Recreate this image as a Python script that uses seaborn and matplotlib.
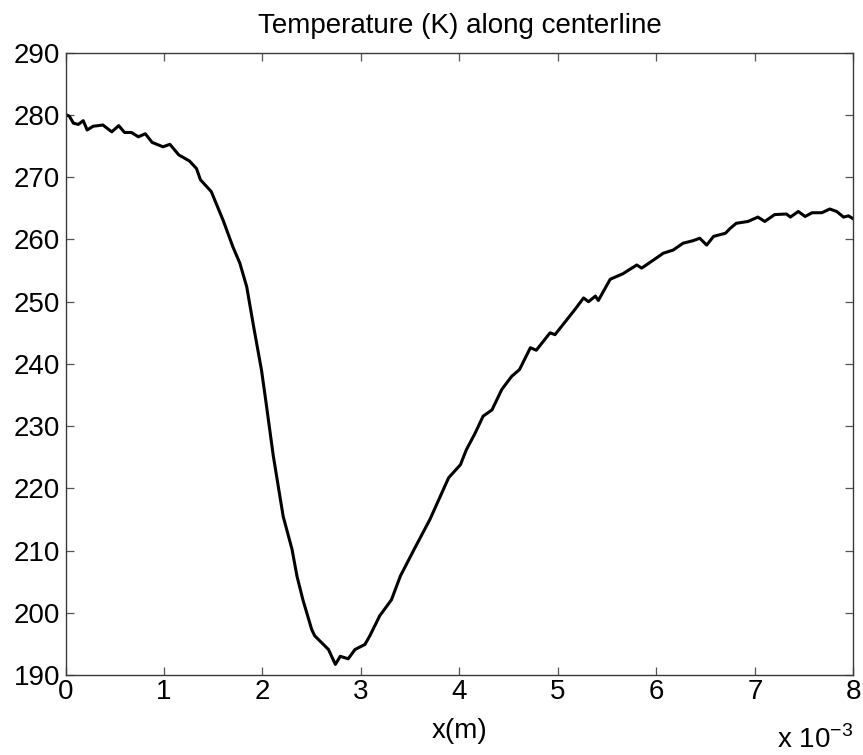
import numpy as np
import pandas as pd
import matplotlib
matplotlib.use("Agg")
import matplotlib.pyplot as plt
import seaborn as sns
from matplotlib.ticker import FuncFormatter

# x positions in units of 1e-3 m, temperature in K
x_mm = [0.00, 0.04, 0.08, 0.13, 0.18, 0.22, 0.28, 0.38, 0.47, 0.54, 0.60, 0.67,
        0.74, 0.81, 0.88, 0.99, 1.06, 1.15, 1.26, 1.33, 1.37, 1.48, 1.60, 1.70,
        1.77, 1.84, 1.91, 1.99, 2.03, 2.11, 2.21, 2.30, 2.35, 2.41, 2.50, 2.53,
        2.67, 2.74, 2.79, 2.87, 2.94, 3.04, 3.09, 3.19, 3.31, 3.40, 3.54, 3.70,
        3.89, 4.01, 4.07, 4.16, 4.24, 4.33, 4.43, 4.53, 4.61, 4.72, 4.78, 4.92,
        4.97, 5.09, 5.17, 5.26, 5.31, 5.38, 5.41, 5.53, 5.66, 5.80, 5.85, 5.97,
        6.07, 6.17, 6.27, 6.37, 6.44, 6.51, 6.58, 6.70, 6.75, 6.81, 6.93, 7.03,
        7.10, 7.20, 7.32, 7.36, 7.44, 7.51, 7.58, 7.68, 7.76, 7.83, 7.90, 7.95,
        8.00]
temperature = [280.1, 279.8, 278.7, 278.5, 279.1, 277.6, 278.2, 278.4, 277.3, 278.3, 277.2, 277.2,
               276.5, 277.0, 275.6, 274.9, 275.3, 273.6, 272.6, 271.4, 269.6, 267.7, 263.1, 258.8,
               256.2, 252.4, 246.0, 239.0, 234.5, 225.2, 215.5, 210.2, 205.9, 202.1, 197.3, 196.3,
               194.1, 191.7, 193.0, 192.6, 194.1, 194.9, 196.3, 199.5, 202.1, 205.9, 210.2, 215.0,
               221.7, 223.8, 226.2, 228.9, 231.6, 232.6, 235.9, 238.0, 239.1, 242.6, 242.2, 245.0,
               244.7, 247.1, 248.7, 250.6, 250.0, 250.9, 250.2, 253.6, 254.5, 255.9, 255.4, 256.7,
               257.8, 258.3, 259.4, 259.8, 260.2, 259.1, 260.5, 261.0, 261.8, 262.6, 262.9, 263.6,
               262.9, 264.0, 264.1, 263.6, 264.5, 263.7, 264.3, 264.3, 264.9, 264.5, 263.6, 263.8,
               263.3]
x_ticks = [0, 1, 2, 3, 4, 5, 6, 7, 8]
y_ticks = [190, 200, 210, 220, 230, 240, 250, 260, 270, 280, 290]

sns.set_theme(style="white")
plt.rcParams['font.family'] = ['Liberation Sans', 'DejaVu Sans']
plt.rcParams['text.color'] = 'black'

df = pd.DataFrame({"x": np.array(x_mm) * 1e-3, "T": temperature})

fig = plt.figure(figsize=(8.63, 7.55), dpi=100)
ax = fig.add_axes([0.0759, 0.106, 0.913, 0.824])
sns.lineplot(data=df, x="x", y="T", color="black", linewidth=2.2,
             sort=False, estimator=None, ax=ax)

ax.set_xlim(0, 8e-3)
ax.set_ylim(190, 290)
ax.set_xticks(np.array(x_ticks) * 1e-3)
ax.xaxis.set_major_formatter(FuncFormatter(lambda v, p: f"{v*1e3:.0f}"))
ax.set_yticks(y_ticks)

for s in ax.spines.values():
    s.set_visible(True)
    s.set_color("#3a3a3a")
    s.set_linewidth(1.0)

ax.tick_params(axis="both", direction="in", length=6, width=0.9, color="#555555",
               labelsize=20, labelcolor="black", top=True, right=True,
               bottom=True, left=True)
ax.tick_params(axis="x", pad=3)
ax.tick_params(axis="y", pad=4)

ax.set_title("Temperature (K) along centerline", fontsize=20, pad=14, color="black")
ax.set_xlabel("x(m)", fontsize=20, labelpad=9, color="black")
ax.set_ylabel("")

ax.text(1.0, -0.117, r"x 10$^{\mathregular{-3}}$", transform=ax.transAxes,
        ha="right", va="baseline", fontsize=20, color="black")

fig.savefig("out.png", dpi=100)
